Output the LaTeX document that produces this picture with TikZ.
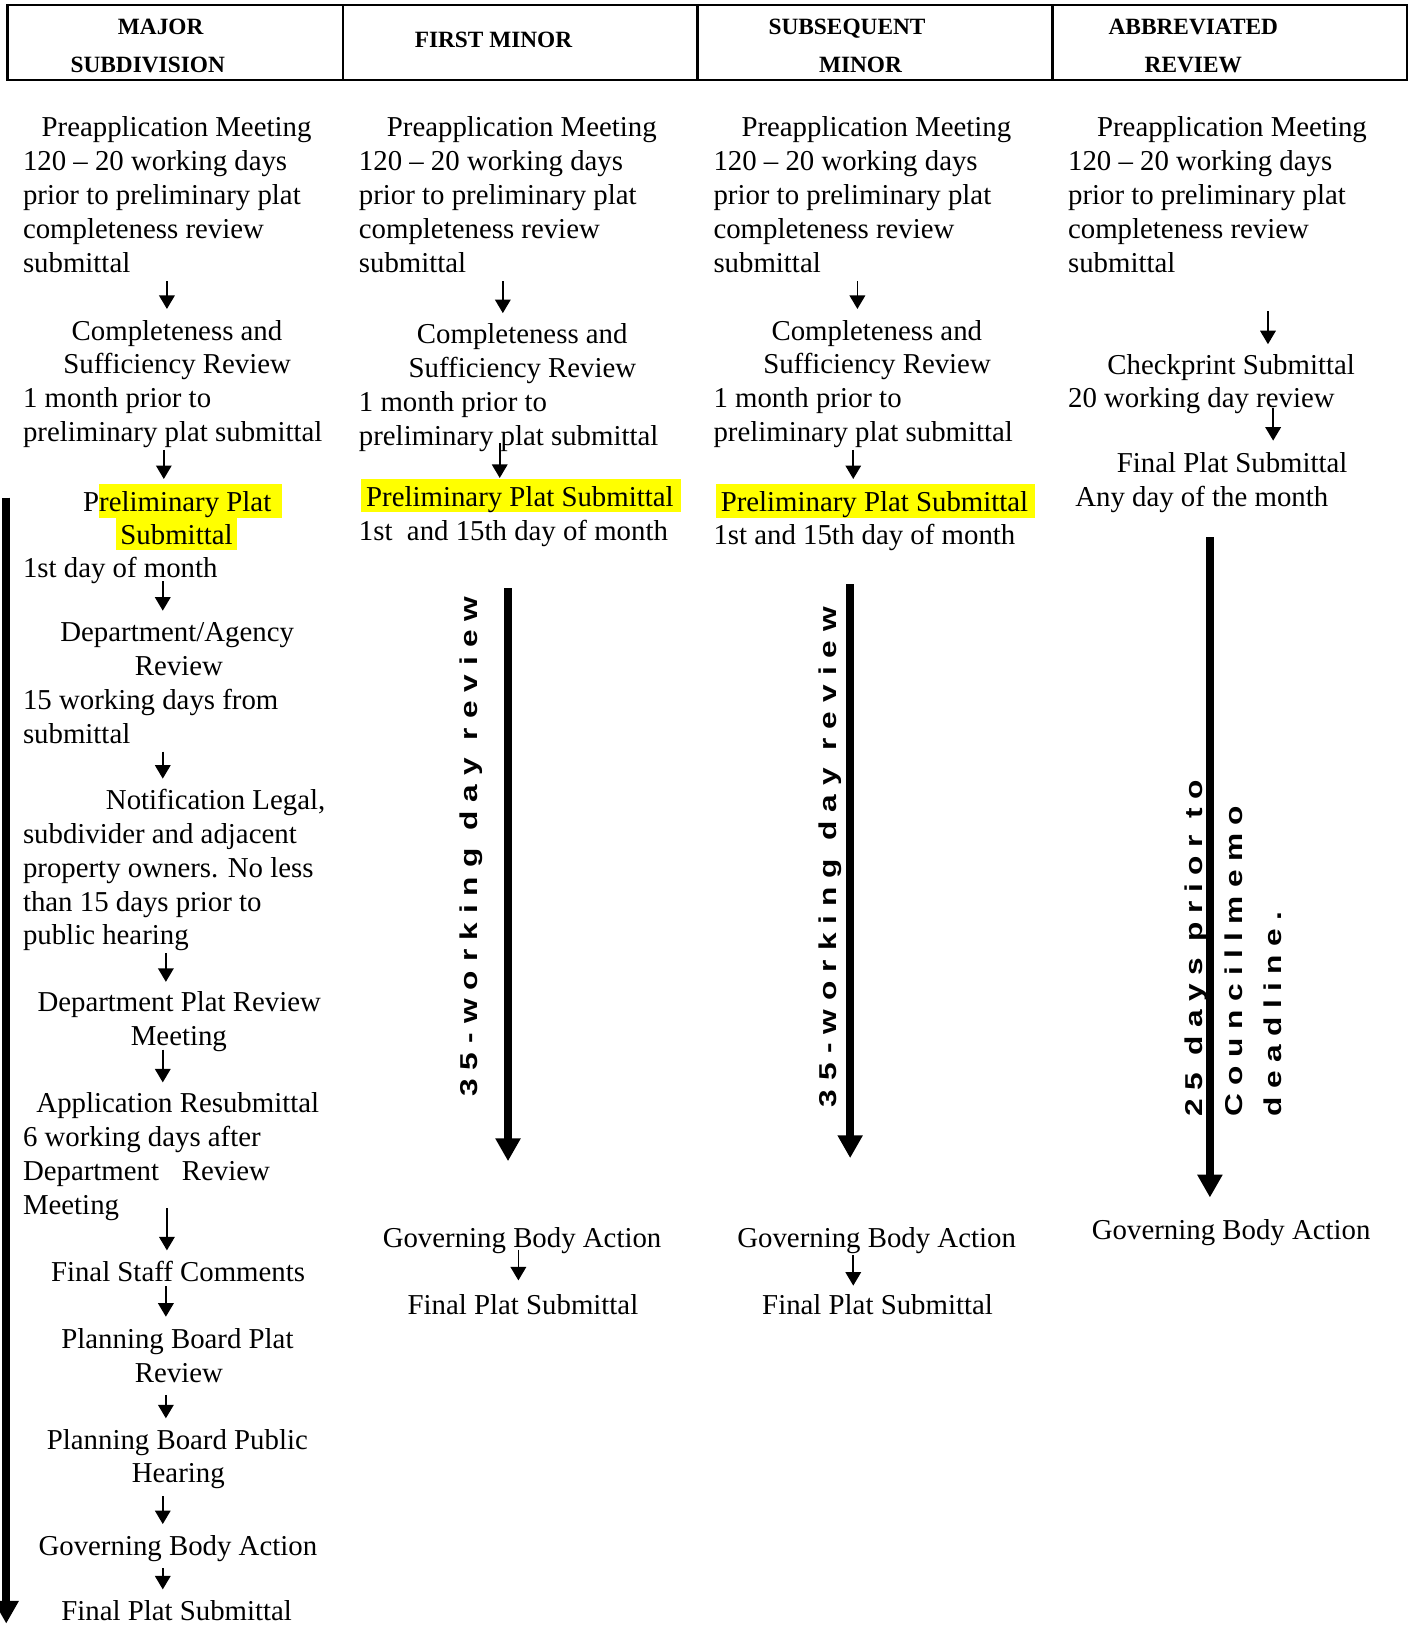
\documentclass[tikz,border=0pt]{standalone}
\usepackage{fontspec}
\setmainfont{Liberation Serif}
\newfontfamily\rotA{Liberation Sans}[LetterSpace=37,FakeStretch=1.3,UprightFont={* Bold},BoldFont={* Bold}]
\newfontfamily\rotB{Liberation Sans}[LetterSpace=34.5,FakeStretch=1.3,UprightFont={* Bold},BoldFont={* Bold}]
\usetikzlibrary{arrows.meta}
\definecolor{hlyellow}{HTML}{FFFF00}
\newcommand\hlt[3]{{\setlength{\fboxsep}{0pt}\colorbox{hlyellow}{\rule[-5pt]{0pt}{31pt}\hspace*{#1}#3\hspace*{#2}}}}
\newcommand\zs{\rule{0pt}{25pt}}
\newcommand\ze{\rule[-8pt]{0pt}{8pt}}
\newcommand\hs{\rule{0pt}{20pt}}
\tikzset{
  blk/.style={font={\fontsize{27.8}{#1}\selectfont\lineskiplimit=-100pt\lineskip=0pt},
    inner sep=0pt, anchor=north west, align=left},
  blk/.default=32.7,
  hdr/.style={font={\bfseries\fontsize{22.5}{37}\selectfont\lineskiplimit=-100pt\lineskip=0pt},
    inner sep=0pt, anchor=north, align=center},
  rot/.style={font={\rotA\fontsize{23.5}{38}\selectfont},
    inner sep=0pt, rotate=90, anchor=base west},
  rotfour/.style={font={\rotB\fontsize{23.5}{38}\selectfont\lineskiplimit=-100pt\lineskip=0pt},
    inner sep=0pt, rotate=90, anchor=north west, align=left},
  sarr/.style={-{Triangle[width=15pt,length=13pt]}, line width=1.5pt, shorten >=5pt},
  barr/.style={-{Triangle[width=23pt,length=22pt]}, line width=7.5pt},
  grid/.style={line width=2.5pt}
}
\begin{document}
\begin{tikzpicture}[x=1pt,y=-1pt]
\useasboundingbox (0,0) rectangle (1362,1569.3);

% header table
\draw[grid] (7,5) rectangle (1357,77);
\draw[grid] (331,5) -- (331,77);
\draw[grid] (673,5) -- (673,77);
\draw[grid] (1015,5) -- (1015,77);
\node[hdr] (h1) at (142.5,13) {\hs\hspace*{25pt}MAJOR\\SUBDIVISION};
\node[hdr] (h2) at (476,26) {\hs FIRST MINOR};
\node[hdr] (h3) at (817,13) {\hs SUBSEQUENT\\\hspace*{26pt}MINOR};
\node[hdr] (h4) at (1151,13) {\hs ABBREVIATED\\REVIEW};

% ---------- column 1: major subdivision
\node[blk=33] (pre1) at (22,106) {\zs\hspace*{18pt}Preapplication Meeting\\120 – 20 working days\\prior to preliminary plat\\completeness review\\submittal\ze};
\node[blk=32.5] (cs1) at (22,303) {\zs\hspace*{47pt}Completeness and\\\hspace*{39pt}Sufficiency Review\\1 month prior to\\preliminary plat submittal\ze};
\node[blk=32] (pp1) at (22,467) {\zs\hspace*{58pt}P\hlt{0pt}{10pt}{reliminary Plat}\\\hspace*{90pt}\hlt{4pt}{4pt}{Submittal}\\1st day of month\ze};
\node[blk=32.5] (dep1) at (22,594) {\zs\hspace*{36pt}Department/Agency\\\hspace*{108pt}Review\\15 working days from\\submittal\ze};
\node[blk=32.5] (not1) at (22,756) {\zs\hspace*{80pt}Notification Legal,\\subdivider and adjacent\\property owners. No less\\than 15 days prior to\\public hearing\ze};
\node[blk=33] (dpr1) at (22,950) {\zs\hspace*{14pt}Department Plat Review\\\hspace*{104pt}Meeting\ze};
\node[blk=32.7] (app1) at (22,1048) {\zs\hspace*{13pt}Application Resubmittal\\6 working days after\\Department\hspace*{22pt}Review\\Meeting\ze};
\node[blk] (fsc1) at (22,1211) {\zs\hspace*{27pt}Final Staff Comments\ze};
\node[blk=33] (pbp1) at (22,1275) {\zs\hspace*{37pt}Planning Board Plat\\\hspace*{108pt}Review\ze};
\node[blk=32] (pbh1) at (22,1373) {\zs\hspace*{23pt}Planning Board Public\\\hspace*{105pt}Hearing\ze};
\node[blk] (gba1) at (22,1475) {\zs\hspace*{15pt}Governing Body Action\ze};
\node[blk] (fps1) at (22,1538) {\zs\hspace*{37pt}Final Plat Submittal\ze};

\draw[sarr] (pre1.south -| 161,0) -- (cs1.north -| 161,0);
\draw[sarr] (cs1.south -| 158,0) -- (pp1.north -| 158,0);
\draw[sarr, shorten <=-5pt] (pp1.south -| 157,0) -- (dep1.north -| 157,0);
\draw[sarr] (dep1.south -| 157,0) -- (not1.north -| 157,0);
\draw[sarr, shorten >=3pt] (not1.south -| 160,0) -- (dpr1.north -| 160,0);
\draw[sarr, shorten <=-4pt, shorten >=4pt] (dpr1.south -| 157,0) -- (app1.north -| 157,0);
\draw[sarr, shorten <=-14pt] (app1.south -| 161,0) -- (fsc1.north -| 161,0);
\draw[sarr, shorten <=-4pt] (fsc1.south -| 160,0) -- (pbp1.north -| 160,0);
\draw[sarr, shorten <=4pt] (pbp1.south -| 160,0) -- (pbh1.north -| 160,0);
\draw[sarr, shorten <=5pt] (pbh1.south -| 157,0) -- (gba1.north -| 157,0);
\draw[sarr, shorten <=4pt] (gba1.south -| 157,0) -- (fps1.north -| 157,0);

\coordinate (tl0) at (6,480);
\coordinate (tl1) at (6,1566);
\draw[barr] (tl0) -- (tl1);

% ---------- column 2: first minor
\node[blk=33] (pre2) at (346,106) {\zs\hspace*{27pt}Preapplication Meeting\\120 – 20 working days\\prior to preliminary plat\\completeness review\\submittal\ze};
\node[blk=32.7] (cs2) at (346,306) {\zs\hspace*{56pt}Completeness and\\\hspace*{48pt}Sufficiency Review\\1 month prior to\\preliminary plat submittal\ze};
\node[blk=33] (pp2) at (346,462) {\zs\hspace*{2pt}\hlt{5pt}{7pt}{Preliminary Plat Submittal}\\1st~~and 15th day of month\ze};
\node[rot] (rt2) at (461,1058) {35-working day review};
\node[blk] (gba2) at (346,1178) {\zs\hspace*{23pt}Governing Body Action\ze};
\node[blk] (fps2) at (346,1243) {\zs\hspace*{47pt}Final Plat Submittal\ze};

\draw[sarr, shorten >=4pt] (pre2.south -| 485,0) -- (cs2.north -| 485,0);
\draw[sarr, shorten <=-10pt, shorten >=1pt] (cs2.south -| 482,0) -- (pp2.north -| 482,0);
\draw[barr, shorten <=38pt, shorten >=58pt] (pp2.south -| 490,0) -- (gba2.north -| 490,0);
\draw[sarr, shorten <=-6pt, shorten >=8pt] (gba2.south -| 500,0) -- (fps2.north -| 500,0);

% ---------- column 3: subsequent minor
\node[blk=33] (pre3) at (688,106) {\zs\hspace*{27pt}Preapplication Meeting\\120 – 20 working days\\prior to preliminary plat\\completeness review\\submittal\ze};
\node[blk=32.5] (cs3) at (688,303) {\zs\hspace*{56pt}Completeness and\\\hspace*{48pt}Sufficiency Review\\1 month prior to\\preliminary plat submittal\ze};
\node[blk=32] (pp3) at (688,467) {\zs\hspace*{2pt}\hlt{5pt}{7pt}{Preliminary Plat Submittal}\\1st and 15th day of month\ze};
\node[rot] (rt3) at (807,1068) {35-working day review};
\node[blk] (gba3) at (688,1178) {\zs\hspace*{23pt}Governing Body Action\ze};
\node[blk] (fps3) at (688,1243) {\zs\hspace*{47pt}Final Plat Submittal\ze};

\draw[sarr] (pre3.south -| 827,0) -- (cs3.north -| 827,0);
\draw[sarr] (cs3.south -| 823,0) -- (pp3.north -| 823,0);
\draw[barr, shorten <=30pt, shorten >=61pt] (pp3.south -| 820,0) -- (gba3.north -| 820,0);
\draw[sarr, shorten <=-1pt, shorten >=3pt] (gba3.south -| 823,0) -- (fps3.north -| 823,0);

% ---------- column 4: abbreviated review
\node[blk=33] (pre4) at (1030,106) {\zs\hspace*{28pt}Preapplication Meeting\\120 – 20 working days\\prior to preliminary plat\\completeness review\\submittal\ze};
\node[blk=32] (cp4) at (1030,336) {\zs\hspace*{38pt}Checkprint Submittal\\20 working day review\ze};
\node[blk=32] (fp4) at (1030,431) {\zs\hspace*{47pt}Final Plat Submittal\\\hspace*{7pt}Any day of the month\ze};
\node[rotfour] (rt4) at (1140,1077) {\hs 25 days prior to\\Councillmemo\\deadline.};
\node[blk] (gba4) at (1030,1170) {\zs\hspace*{23pt}Governing Body Action\ze};

\draw[sarr, shorten <=29pt, shorten >=4pt] (pre4.south -| 1223,0) -- (cp4.north -| 1223,0);
\draw[sarr, shorten <=-8pt, shorten >=6pt] (cp4.south -| 1228,0) -- (fp4.north -| 1228,0);
\draw[barr, shorten <=22pt, shorten >=15pt] (fp4.south -| 1167,0) -- (gba4.north -| 1167,0);
\end{tikzpicture}
\end{document}
